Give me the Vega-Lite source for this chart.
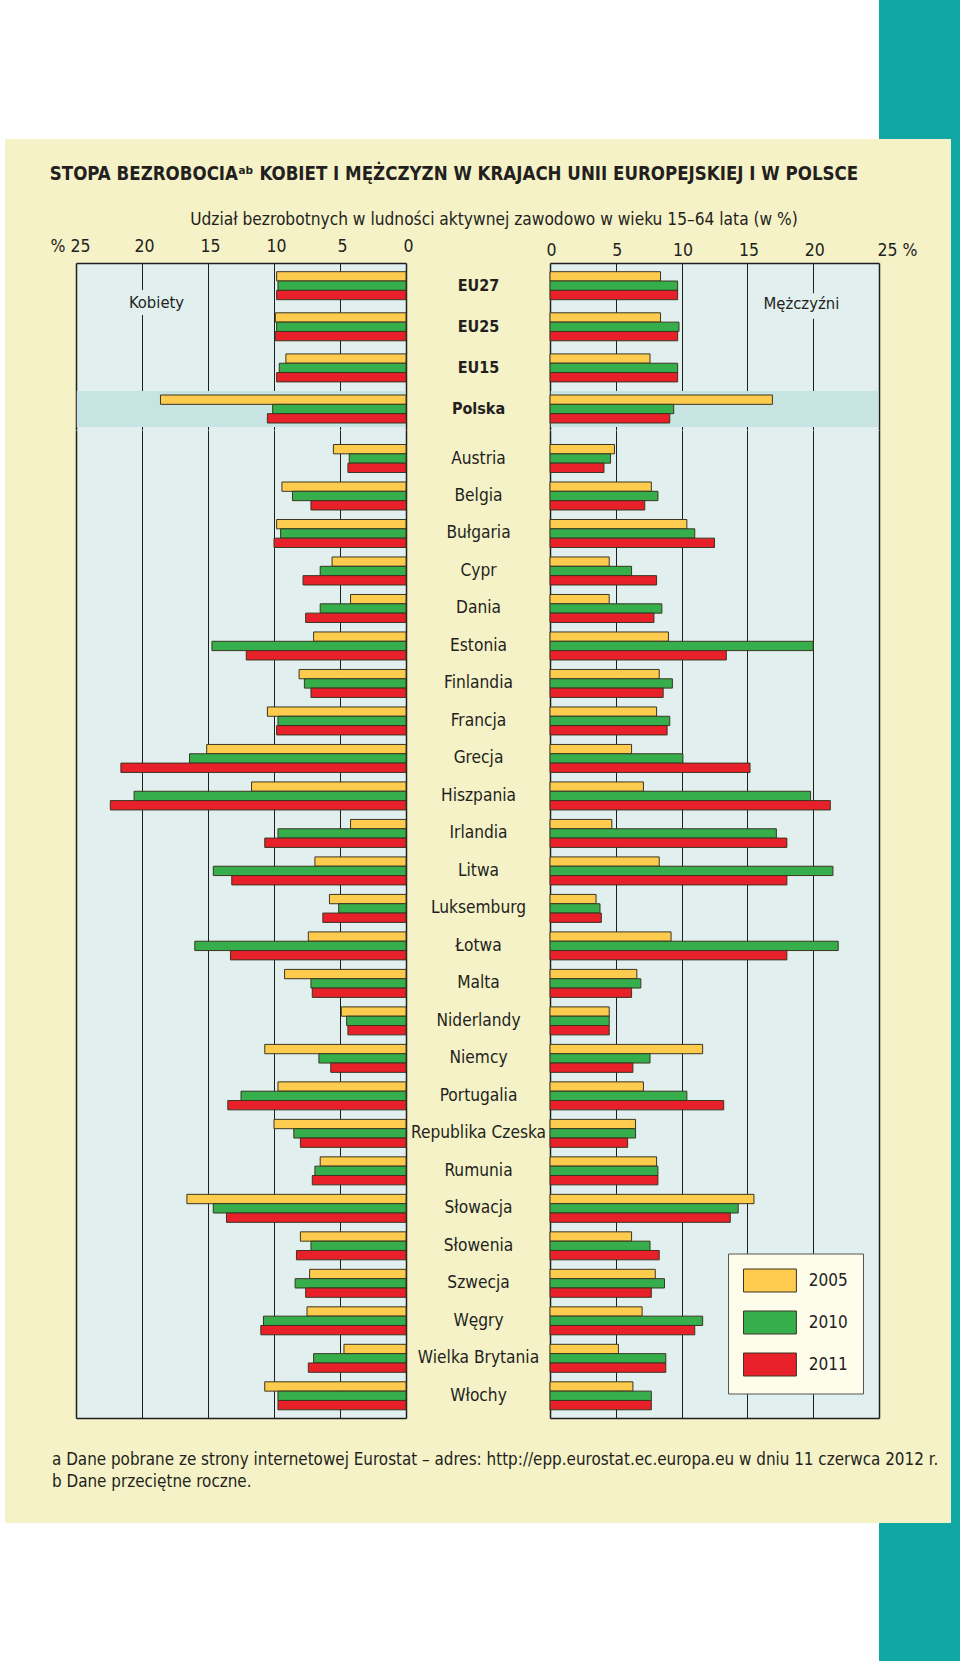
{
  "$schema": "https://vega.github.io/schema/vega-lite/v6.json",
  "background": "#F5F2C7",
  "padding": 0,
  "config": {
    "font": "DejaVu Sans Condensed, Liberation Sans Narrow, sans-serif",
    "view": {"stroke": null},
    "concat": {"spacing": 0},
    "title": {"color": "#231F20", "font": "DejaVu Sans Condensed, Liberation Sans Narrow, sans-serif"},
    "text": {"color": "#231F20"}
  },
  "datasets": {
    "top": [
      {"country":"EU27","year":"2005","k":9.8,"m":8.4},{"country":"EU27","year":"2010","k":9.7,"m":9.7},{"country":"EU27","year":"2011","k":9.8,"m":9.7},
      {"country":"EU25","year":"2005","k":9.9,"m":8.4},{"country":"EU25","year":"2010","k":9.8,"m":9.8},{"country":"EU25","year":"2011","k":9.9,"m":9.7},
      {"country":"EU15","year":"2005","k":9.1,"m":7.6},{"country":"EU15","year":"2010","k":9.6,"m":9.7},{"country":"EU15","year":"2011","k":9.8,"m":9.7},
      {"country":"Polska","year":"2005","k":18.6,"m":16.9},{"country":"Polska","year":"2010","k":10.1,"m":9.4},{"country":"Polska","year":"2011","k":10.5,"m":9.1}
    ],
    "kraje": [
      {"country":"Austria","year":"2005","k":5.5,"m":4.9},{"country":"Austria","year":"2010","k":4.3,"m":4.6},{"country":"Austria","year":"2011","k":4.4,"m":4.1},
      {"country":"Belgia","year":"2005","k":9.4,"m":7.7},{"country":"Belgia","year":"2010","k":8.6,"m":8.2},{"country":"Belgia","year":"2011","k":7.2,"m":7.2},
      {"country":"Bułgaria","year":"2005","k":9.8,"m":10.4},{"country":"Bułgaria","year":"2010","k":9.5,"m":11.0},{"country":"Bułgaria","year":"2011","k":10.0,"m":12.5},
      {"country":"Cypr","year":"2005","k":5.6,"m":4.5},{"country":"Cypr","year":"2010","k":6.5,"m":6.2},{"country":"Cypr","year":"2011","k":7.8,"m":8.1},
      {"country":"Dania","year":"2005","k":4.2,"m":4.5},{"country":"Dania","year":"2010","k":6.5,"m":8.5},{"country":"Dania","year":"2011","k":7.6,"m":7.9},
      {"country":"Estonia","year":"2005","k":7.0,"m":9.0},{"country":"Estonia","year":"2010","k":14.7,"m":20.0},{"country":"Estonia","year":"2011","k":12.1,"m":13.4},
      {"country":"Finlandia","year":"2005","k":8.1,"m":8.3},{"country":"Finlandia","year":"2010","k":7.7,"m":9.3},{"country":"Finlandia","year":"2011","k":7.2,"m":8.6},
      {"country":"Francja","year":"2005","k":10.5,"m":8.1},{"country":"Francja","year":"2010","k":9.7,"m":9.1},{"country":"Francja","year":"2011","k":9.8,"m":8.9},
      {"country":"Grecja","year":"2005","k":15.1,"m":6.2},{"country":"Grecja","year":"2010","k":16.4,"m":10.1},{"country":"Grecja","year":"2011","k":21.6,"m":15.2},
      {"country":"Hiszpania","year":"2005","k":11.7,"m":7.1},{"country":"Hiszpania","year":"2010","k":20.6,"m":19.8},{"country":"Hiszpania","year":"2011","k":22.4,"m":21.3},
      {"country":"Irlandia","year":"2005","k":4.2,"m":4.7},{"country":"Irlandia","year":"2010","k":9.7,"m":17.2},{"country":"Irlandia","year":"2011","k":10.7,"m":18.0},
      {"country":"Litwa","year":"2005","k":6.9,"m":8.3},{"country":"Litwa","year":"2010","k":14.6,"m":21.5},{"country":"Litwa","year":"2011","k":13.2,"m":18.0},
      {"country":"Luksemburg","year":"2005","k":5.8,"m":3.5},{"country":"Luksemburg","year":"2010","k":5.1,"m":3.8},{"country":"Luksemburg","year":"2011","k":6.3,"m":3.9},
      {"country":"Łotwa","year":"2005","k":7.4,"m":9.2},{"country":"Łotwa","year":"2010","k":16.0,"m":21.9},{"country":"Łotwa","year":"2011","k":13.3,"m":18.0},
      {"country":"Malta","year":"2005","k":9.2,"m":6.6},{"country":"Malta","year":"2010","k":7.2,"m":6.9},{"country":"Malta","year":"2011","k":7.1,"m":6.2},
      {"country":"Niderlandy","year":"2005","k":4.9,"m":4.5},{"country":"Niderlandy","year":"2010","k":4.5,"m":4.5},{"country":"Niderlandy","year":"2011","k":4.4,"m":4.5},
      {"country":"Niemcy","year":"2005","k":10.7,"m":11.6},{"country":"Niemcy","year":"2010","k":6.6,"m":7.6},{"country":"Niemcy","year":"2011","k":5.7,"m":6.3},
      {"country":"Portugalia","year":"2005","k":9.7,"m":7.1},{"country":"Portugalia","year":"2010","k":12.5,"m":10.4},{"country":"Portugalia","year":"2011","k":13.5,"m":13.2},
      {"country":"Republika Czeska","year":"2005","k":10.0,"m":6.5},{"country":"Republika Czeska","year":"2010","k":8.5,"m":6.5},{"country":"Republika Czeska","year":"2011","k":8.0,"m":5.9},
      {"country":"Rumunia","year":"2005","k":6.5,"m":8.1},{"country":"Rumunia","year":"2010","k":6.9,"m":8.2},{"country":"Rumunia","year":"2011","k":7.1,"m":8.2},
      {"country":"Słowacja","year":"2005","k":16.6,"m":15.5},{"country":"Słowacja","year":"2010","k":14.6,"m":14.3},{"country":"Słowacja","year":"2011","k":13.6,"m":13.7},
      {"country":"Słowenia","year":"2005","k":8.0,"m":6.2},{"country":"Słowenia","year":"2010","k":7.2,"m":7.6},{"country":"Słowenia","year":"2011","k":8.3,"m":8.3},
      {"country":"Szwecja","year":"2005","k":7.3,"m":8.0},{"country":"Szwecja","year":"2010","k":8.4,"m":8.7},{"country":"Szwecja","year":"2011","k":7.6,"m":7.7},
      {"country":"Węgry","year":"2005","k":7.5,"m":7.0},{"country":"Węgry","year":"2010","k":10.8,"m":11.6},{"country":"Węgry","year":"2011","k":11.0,"m":11.0},
      {"country":"Wielka Brytania","year":"2005","k":4.7,"m":5.2},{"country":"Wielka Brytania","year":"2010","k":7.0,"m":8.8},{"country":"Wielka Brytania","year":"2011","k":7.4,"m":8.8},
      {"country":"Włochy","year":"2005","k":10.7,"m":6.3},{"country":"Włochy","year":"2010","k":9.7,"m":7.7},{"country":"Włochy","year":"2011","k":9.7,"m":7.7}
    ]
  },
  "concat": [
    {"width": 5, "height": 139, "data": {"values": []}, "mark": "rect", "view": {"fill": "#FFFFFF"}},
    {"width": 71, "height": 139, "data": {"values": []}, "mark": "rect", "view": {"fill": "#FFFFFF"}},
    {"width": 330, "height": 139, "data": {"values": []}, "mark": "rect", "view": {"fill": "#FFFFFF"}},
    {"width": 144, "height": 139, "data": {"values": []}, "mark": "rect", "view": {"fill": "#FFFFFF"}},
    {"width": 329, "height": 139, "data": {"values": []}, "mark": "rect", "view": {"fill": "#FFFFFF"}},
    {"width": 72, "height": 139, "data": {"values": []}, "mark": "rect", "view": {"fill": "#11A7A5"}},
    {"width": 9, "height": 139, "data": {"values": []}, "mark": "rect", "view": {"fill": "#11A7A5"}},

    {"width": 5, "height": 124, "data": {"values": []}, "mark": "rect", "view": {"fill": "#FFFFFF"}},
    {"width": 71, "height": 124, "data": {"values": []}, "mark": "rect",
      "title": {"text": "STOPA BEZROBOCIAᵃᵇ KOBIET I MĘŻCZYZN W KRAJACH UNII EUROPEJSKIEJ I W POLSCE", "orient": "bottom", "anchor": "start", "frame": "group", "offset": -98.2, "dx": 44.8, "baseline": "top", "fontSize": 18.55, "fontWeight": "bold"}},
    {"width": 330, "height": 124, "data": {"values": []}, "mark": "rect"},
    {"width": 144, "height": 124, "data": {"values": []}, "mark": "rect",
      "title": {"text": "Udział bezrobotnych w ludności aktywnej zawodowo w wieku 15–64 lata (w %)", "orient": "bottom", "anchor": "middle", "frame": "group", "offset": -52, "dx": 16, "baseline": "top", "fontSize": 17.2, "fontWeight": "normal"}},
    {"width": 329, "height": 124, "data": {"values": []}, "mark": "rect"},
    {"width": 72, "height": 124, "data": {"values": []}, "mark": "rect"},
    {"width": 9, "height": 124, "data": {"values": []}, "mark": "rect", "view": {"fill": "#11A7A5"}},

    {"width": 5, "height": 167, "data": {"values": []}, "mark": "rect", "view": {"fill": "#FFFFFF"}},
    {"width": 71, "height": 167, "data": {"values": []}, "mark": "rect"},
    {
      "width": 330, "height": 167,
      "view": {"fill": "#E1F0EF", "stroke": null},
      "layer": [
        {
          "data": {"values": [{"country": "Polska"}]},
          "mark": {"type": "bar", "color": "#C8E4E2", "height": {"band": 1.29}},
          "encoding": {
            "y": {"field": "country", "type": "nominal", "scale": {"domain": ["EU27","EU25","EU15","Polska"], "paddingInner": 0.319, "paddingOuter": 0.191, "align": 0.554},
              "axis": {"orient": "right", "title": null, "domain": false, "ticks": false, "tickSize": 0, "grid": false, "labelPadding": 72, "labelAlign": "center", "labelBaseline": "middle", "labelColor": "#231F20", "labelOverlap": false, "labelBound": false, "labelLimit": 0, "labelFontSize": 16, "labelFontWeight": "bold"}},
            "x": {"datum": 0.06, "type": "quantitative", "scale": {"domain": [0, 25], "reverse": true, "nice": false},
              "axis": {"orient": "top", "values": [0,5,10,15,20,25], "title": null, "grid": true, "gridColor": "#1E1E1E", "gridWidth": {"condition": {"test": "datum.value == 0 || datum.value == 25", "value": 1.5}, "value": 1}, "domain": true, "domainColor": "#1E1E1E", "domainWidth": 1.5, "ticks": false, "tickSize": 0, "labelPadding": 16.8, "labelBaseline": "middle", "labelFontSize": 17.5, "labelColor": "#231F20", "labelFlush": false, "labelOverlap": false, "labelBound": false, "labelExpr": "datum.value == 25 ? '% 25' : datum.label", "labelAlign": {"condition": {"test": "datum.value == 25", "value": "right"}, "value": "center"}, "labelOffset": {"condition": {"test": "datum.value == 25", "value": 14}, "value": 2}}},
            "x2": {"datum": 24.94}
          }
        },
        {
          "data": {"values": [{"t": "Kobiety"}]},
          "mark": {"type": "text", "fontSize": 16.5, "dy": 17.3, "color": "#E1F0EF", "stroke": "#E1F0EF", "strokeWidth": 14, "strokeJoin": "round"},
          "encoding": {
            "text": {"field": "t"},
            "x": {"datum": 18.9, "type": "quantitative"},
            "y": {"datum": "EU27", "type": "nominal"}
          }
        },
        {
          "data": {"values": [{"t": "Kobiety"}]},
          "mark": {"type": "text", "fontSize": 16.5, "dy": 17.3, "color": "#231F20"},
          "encoding": {
            "text": {"field": "t"},
            "x": {"datum": 18.9, "type": "quantitative"},
            "y": {"datum": "EU27", "type": "nominal"}
          }
        },
        {
          "data": {"name": "top"},
          "mark": {"type": "bar", "stroke": "#3B3521", "strokeWidth": 1},
          "encoding": {
            "y": {"field": "country", "type": "nominal"},
            "yOffset": {"field": "year", "type": "nominal", "scale": {"domain": ["2005","2010","2011"], "paddingInner": 0, "paddingOuter": 0}},
            "x": {"field": "k", "type": "quantitative"},
            "color": {"field": "year", "type": "nominal", "scale": {"domain": ["2005","2010","2011"], "range": ["#FDCB4E","#36AE4B","#E7202A"]}, "legend": null}
          }
        }
      ]
    },
    {"width": 144, "height": 167, "data": {"values": []}, "mark": "rect"},
    {
      "width": 329, "height": 167,
      "view": {"fill": "#E1F0EF", "stroke": null},
      "layer": [
        {
          "data": {"values": [{"country": "Polska"}]},
          "mark": {"type": "bar", "color": "#C8E4E2", "height": {"band": 1.29}},
          "encoding": {
            "y": {"field": "country", "type": "nominal", "scale": {"domain": ["EU27","EU25","EU15","Polska"], "paddingInner": 0.319, "paddingOuter": 0.191, "align": 0.554}, "axis": null},
            "x": {"datum": 0.06, "type": "quantitative", "scale": {"domain": [0, 25], "nice": false},
              "axis": {"orient": "top", "values": [0,5,10,15,20,25], "title": null, "grid": true, "gridColor": "#1E1E1E", "gridWidth": {"condition": {"test": "datum.value == 0 || datum.value == 25", "value": 1.5}, "value": 1}, "domain": true, "domainColor": "#1E1E1E", "domainWidth": 1.5, "ticks": false, "tickSize": 0, "labelPadding": 12.6, "labelBaseline": "middle", "labelFontSize": 17.5, "labelColor": "#231F20", "labelFlush": false, "labelOverlap": false, "labelBound": false, "labelExpr": "datum.value == 25 ? '25 %' : datum.label", "labelAlign": {"condition": {"test": "datum.value == 25", "value": "left"}, "value": "center"}, "labelOffset": {"condition": {"test": "datum.value == 25", "value": -2}, "value": 1}}},
            "x2": {"datum": 24.94}
          }
        },
        {
          "data": {"values": [{"t": "Mężczyźni"}]},
          "mark": {"type": "text", "fontSize": 16.5, "dy": 18.3, "color": "#E1F0EF", "stroke": "#E1F0EF", "strokeWidth": 14, "strokeJoin": "round"},
          "encoding": {
            "text": {"field": "t"},
            "x": {"datum": 19.1, "type": "quantitative"},
            "y": {"datum": "EU27", "type": "nominal", "axis": null}
          }
        },
        {
          "data": {"values": [{"t": "Mężczyźni"}]},
          "mark": {"type": "text", "fontSize": 16.5, "dy": 18.3, "color": "#231F20"},
          "encoding": {
            "text": {"field": "t"},
            "x": {"datum": 19.1, "type": "quantitative"},
            "y": {"datum": "EU27", "type": "nominal", "axis": null}
          }
        },
        {
          "data": {"name": "top"},
          "mark": {"type": "bar", "stroke": "#3B3521", "strokeWidth": 1},
          "encoding": {
            "y": {"field": "country", "type": "nominal", "axis": null},
            "yOffset": {"field": "year", "type": "nominal", "scale": {"domain": ["2005","2010","2011"], "paddingInner": 0, "paddingOuter": 0}},
            "x": {"field": "m", "type": "quantitative"},
            "color": {"field": "year", "type": "nominal", "scale": {"domain": ["2005","2010","2011"], "range": ["#FDCB4E","#36AE4B","#E7202A"]}, "legend": null}
          }
        }
      ]
    },
    {"width": 72, "height": 167, "data": {"values": []}, "mark": "rect"},
    {"width": 9, "height": 167, "data": {"values": []}, "mark": "rect", "view": {"fill": "#11A7A5"}},

    {"width": 5, "height": 988, "data": {"values": []}, "mark": "rect", "view": {"fill": "#FFFFFF"}},
    {"width": 71, "height": 988, "data": {"values": []}, "mark": "rect"},
    {
      "width": 330, "height": 988,
      "view": {"fill": "#E1F0EF", "stroke": null},
      "data": {"name": "kraje"},
      "mark": {"type": "bar", "stroke": "#3B3521", "strokeWidth": 1},
      "encoding": {
        "y": {"field": "country", "type": "nominal", "scale": {"domain": ["Austria","Belgia","Bułgaria","Cypr","Dania","Estonia","Finlandia","Francja","Grecja","Hiszpania","Irlandia","Litwa","Luksemburg","Łotwa","Malta","Niderlandy","Niemcy","Portugalia","Republika Czeska","Rumunia","Słowacja","Słowenia","Szwecja","Węgry","Wielka Brytania","Włochy"], "paddingInner": 0.2531, "paddingOuter": 0.3027, "align": 0.639},
          "axis": {"orient": "right", "title": null, "domain": false, "ticks": false, "tickSize": 0, "grid": false, "labelPadding": 72, "labelAlign": "center", "labelBaseline": "middle", "labelColor": "#231F20", "labelOverlap": false, "labelBound": false, "labelLimit": 0, "labelFontSize": 17.2}},
        "yOffset": {"field": "year", "type": "nominal", "scale": {"domain": ["2005","2010","2011"], "paddingInner": 0, "paddingOuter": 0}},
        "x": {"field": "k", "type": "quantitative", "scale": {"domain": [0, 25], "reverse": true, "nice": false},
          "axis": {"orient": "bottom", "values": [0,5,10,15,20,25], "title": null, "grid": true, "gridColor": "#1E1E1E", "gridWidth": {"condition": {"test": "datum.value == 0 || datum.value == 25", "value": 1.5}, "value": 1}, "domain": true, "domainColor": "#1E1E1E", "domainWidth": 1.5, "ticks": false, "labels": false}},
        "color": {"field": "year", "type": "nominal", "scale": {"domain": ["2005","2010","2011"], "range": ["#FDCB4E","#36AE4B","#E7202A"]}, "legend": null}
      }
    },
    {"width": 144, "height": 988, "data": {"values": []}, "mark": "rect"},
    {
      "width": 329, "height": 988,
      "view": {"fill": "#E1F0EF", "stroke": null},
      "data": {"name": "kraje"},
      "mark": {"type": "bar", "stroke": "#3B3521", "strokeWidth": 1},
      "encoding": {
        "y": {"field": "country", "type": "nominal", "scale": {"domain": ["Austria","Belgia","Bułgaria","Cypr","Dania","Estonia","Finlandia","Francja","Grecja","Hiszpania","Irlandia","Litwa","Luksemburg","Łotwa","Malta","Niderlandy","Niemcy","Portugalia","Republika Czeska","Rumunia","Słowacja","Słowenia","Szwecja","Węgry","Wielka Brytania","Włochy"], "paddingInner": 0.2531, "paddingOuter": 0.3027, "align": 0.639}, "axis": null},
        "yOffset": {"field": "year", "type": "nominal", "scale": {"domain": ["2005","2010","2011"], "paddingInner": 0, "paddingOuter": 0}},
        "x": {"field": "m", "type": "quantitative", "scale": {"domain": [0, 25], "nice": false},
          "axis": {"orient": "bottom", "values": [0,5,10,15,20,25], "title": null, "grid": true, "gridColor": "#1E1E1E", "gridWidth": {"condition": {"test": "datum.value == 0 || datum.value == 25", "value": 1.5}, "value": 1}, "domain": true, "domainColor": "#1E1E1E", "domainWidth": 1.5, "ticks": false, "labels": false}},
        "color": {"field": "year", "type": "nominal", "scale": {"domain": ["2005","2010","2011"], "range": ["#FDCB4E","#36AE4B","#E7202A"]},
          "legend": {"orient": "none", "legendX": 178, "legendY": 823.5, "title": null, "symbolType": "M-1,-1H3.6V1H-1Z", "symbolSize": 529, "symbolStrokeColor": "#3B3521", "symbolStrokeWidth": 1, "symbolOpacity": 1, "labelFontSize": 17, "labelColor": "#231F20", "labelOffset": 41.8, "rowPadding": 14, "padding": 15, "fillColor": "#FEFCEB", "strokeColor": "#555555"}}
      }
    },
    {"width": 72, "height": 988, "data": {"values": []}, "mark": "rect"},
    {"width": 9, "height": 988, "data": {"values": []}, "mark": "rect", "view": {"fill": "#11A7A5"}},

    {"width": 5, "height": 105, "data": {"values": []}, "mark": "rect", "view": {"fill": "#FFFFFF"}},
    {"width": 71, "height": 105, "data": {"values": []}, "mark": "rect",
      "title": {"text": ["a Dane pobrane ze strony internetowej Eurostat – adres: http://epp.eurostat.ec.europa.eu w dniu 11 czerwca 2012 r.", "b Dane przeciętne roczne."], "orient": "bottom", "anchor": "start", "frame": "group", "offset": -71.2, "dx": 47, "baseline": "top", "fontSize": 16.9, "fontWeight": "normal", "lineHeight": 22.3}},
    {"width": 330, "height": 105, "data": {"values": []}, "mark": "rect"},
    {"width": 144, "height": 105, "data": {"values": []}, "mark": "rect"},
    {"width": 329, "height": 105, "data": {"values": []}, "mark": "rect"},
    {"width": 72, "height": 105, "data": {"values": []}, "mark": "rect"},
    {"width": 9, "height": 105, "data": {"values": []}, "mark": "rect", "view": {"fill": "#11A7A5"}},

    {"width": 5, "height": 138, "data": {"values": []}, "mark": "rect", "view": {"fill": "#FFFFFF"}},
    {"width": 71, "height": 138, "data": {"values": []}, "mark": "rect", "view": {"fill": "#FFFFFF"}},
    {"width": 330, "height": 138, "data": {"values": []}, "mark": "rect", "view": {"fill": "#FFFFFF"}},
    {"width": 144, "height": 138, "data": {"values": []}, "mark": "rect", "view": {"fill": "#FFFFFF"}},
    {"width": 329, "height": 138, "data": {"values": []}, "mark": "rect", "view": {"fill": "#FFFFFF"}},
    {"width": 72, "height": 138, "data": {"values": []}, "mark": "rect", "view": {"fill": "#11A7A5"}},
    {"width": 9, "height": 138, "data": {"values": []}, "mark": "rect", "view": {"fill": "#11A7A5"}}
  ],
  "columns": 7,
  "spacing": 0,
  "bounds": "flush",
  "align": "each",
  "resolve": {"scale": {"x": "independent", "y": "independent", "color": "independent"}}
}
